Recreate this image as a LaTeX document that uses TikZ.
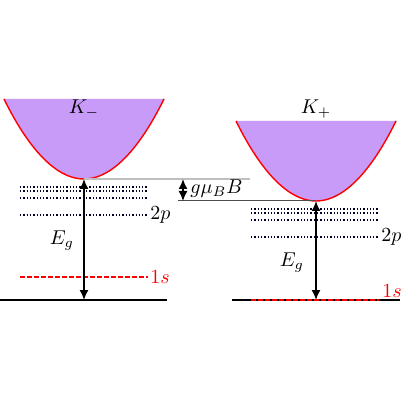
\documentclass[tikz,border=0pt]{standalone}
\usetikzlibrary{arrows.meta}
\definecolor{bandfill}{RGB}{200,155,248}
\tikzset{
  band/.style={fill=bandfill},
  bandedge/.style={draw=red, line width=0.7pt},
  level/.style={densely dotted, line width=0.65pt, draw=black!85!blue},
  slevel/.style={draw=red, line width=0.6pt, dash pattern=on 2.5pt off 1pt},
  ground/.style={line width=0.9pt},
  gap/.style={line width=0.75pt, {Latex[length=5pt,width=4.5pt]}-{Latex[length=5pt,width=4.5pt]}},
  lbl/.style={inner sep=1pt}
}
\begin{document}
\begin{tikzpicture}[x=0.5pt,y=-0.5pt]
\useasboundingbox (0,0) rectangle (400,400);
% left band
\coordinate (LA) at (4,99);
\coordinate (LV) at (84,179);
\coordinate (LB) at (164,99);
\fill[band] (LA) parabola bend (LV) (LB) -- cycle;
\draw[bandedge] (LA) parabola bend (LV) (LB);
\node[lbl] (km) at (84,109) {$K_-$};
% right band
\coordinate (RA) at (236,121);
\coordinate (RV) at (316,201);
\coordinate (RB) at (396,121);
\fill[band] (RA) parabola bend (RV) (RB) -- cycle;
\draw[bandedge] (RA) parabola bend (RV) (RB);
\node[lbl] (kp) at (316,109) {$K_+$};
% Zeeman reference lines
\coordinate (GL) at (250,179);
\coordinate (GR) at (178,201);
\draw[black!25, line width=0.6pt] (LV) -- (GL);
\draw[black!70, line width=0.5pt] (GR) -- (RV);
\coordinate (ZT) at (183,179);
\coordinate (ZB) at (183,201);
\draw[gap] (ZT) -- (ZB);
\node[lbl, anchor=west] (zl) at (188,189) {$g\mu_B B$};
% left levels
\coordinate (L1a) at (20,187); \coordinate (L1b) at (148,187);
\coordinate (L2a) at (20,191); \coordinate (L2b) at (148,191);
\coordinate (L3a) at (20,198); \coordinate (L3b) at (148,198);
\coordinate (L4a) at (20,215); \coordinate (L4b) at (148,215);
\draw[level] (L1a) -- (L1b);
\draw[level] (L2a) -- (L2b);
\draw[level] (L3a) -- (L3b);
\draw[level] (L4a) -- (L4b);
\node[lbl, anchor=west] (l2p) at (L4b) {$2p$};
\coordinate (Lsa) at (20,277); \coordinate (Lsb) at (148,277);
\draw[slevel] (Lsa) -- (Lsb);
\node[lbl, anchor=west, text=red] (l1s) at (Lsb) {$1s$};
\coordinate (LGa) at (0,300); \coordinate (LGb) at (167,300);
\coordinate (LG) at (84,300);
\draw[ground] (LGa) -- (LGb);
\draw[gap] (LV) -- (LG);
\node[lbl] (leg) at (62,241) {$E_g$};
% right levels
\coordinate (R1a) at (251,209); \coordinate (R1b) at (379,209);
\coordinate (R2a) at (251,213); \coordinate (R2b) at (379,213);
\coordinate (R3a) at (251,220); \coordinate (R3b) at (379,220);
\coordinate (R4a) at (251,237); \coordinate (R4b) at (379,237);
\draw[level] (R1a) -- (R1b);
\draw[level] (R2a) -- (R2b);
\draw[level] (R3a) -- (R3b);
\draw[level] (R4a) -- (R4b);
\node[lbl, anchor=west] (r2p) at (R4b) {$2p$};
\coordinate (RGa) at (232,300); \coordinate (RGb) at (400,300);
\coordinate (RG) at (316,300);
\draw[ground] (RGa) -- (RGb);
\coordinate (Rsa) at (251,300); \coordinate (Rsb) at (379,300);
\draw[slevel] (Rsa) -- (Rsb);
\node[lbl, anchor=base west, text=red] (r1s) at (380,297) {$1s$};
\draw[gap] (RV) -- (RG);
\node[lbl] (reg) at (292,263) {$E_g$};
\end{tikzpicture}
\end{document}
